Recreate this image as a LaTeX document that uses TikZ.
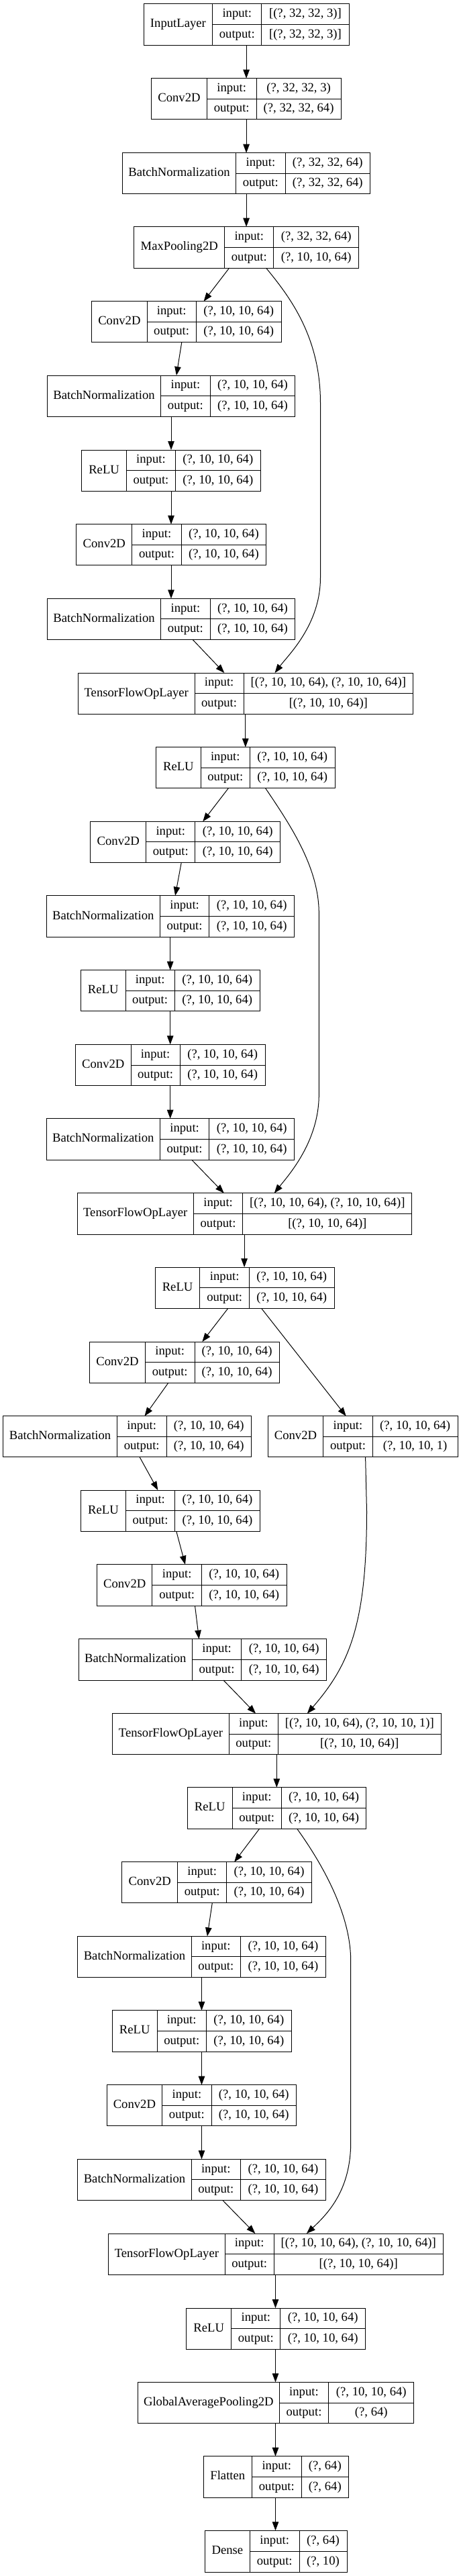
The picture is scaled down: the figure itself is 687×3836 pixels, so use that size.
\documentclass[tikz,border=0pt]{standalone}
\usepackage{fontspec}
\setmainfont{Liberation Serif}
\usetikzlibrary{arrows.meta}

\tikzset{
  layer/.style={draw, line width=1pt, inner sep=0pt, outer sep=0pt, anchor=north west},
  cell/.style={line width=1pt},
  txt/.style={font=\fontsize{18.67}{22}\selectfont, inner sep=0pt, text height=12.6pt, text depth=3.6pt},
  edge/.style={-{Triangle[length=13pt,width=9.5pt]}, line width=1pt}
}

\begin{document}
\begin{tikzpicture}[x=1pt, y=-1pt]

% Background
\fill[white] (0,0) rectangle (687,3836);

% Layers: name / x left / x divider 1 / x divider 2 / x right / y top / y bottom / type / input / output
\foreach \nm/\xa/\xb/\xc/\xd/\ya/\yb/\lab/\vin/\vout in {
l1/214.2/316.7/389.9/520.0/5.7/67.0/InputLayer/{[(?, 32, 32, 3)]}/{[(?, 32, 32, 3)]},
l2/225.6/308.4/382.0/508.2/116.7/177.7/Conv2D/{(?, 32, 32, 3)}/{(?, 32, 32, 64)},
l3/182.3/351.8/425.0/551.6/227.7/288.3/BatchNormalization/{(?, 32, 32, 64)}/{(?, 32, 32, 64)},
l4/199.8/334.7/407.9/534.5/337.7/399.0/MaxPooling2D/{(?, 32, 32, 64)}/{(?, 10, 10, 64)},
l5/136.7/219.1/292.2/419.3/448.7/509.7/Conv2D/{(?, 10, 10, 64)}/{(?, 10, 10, 64)},
l6/70.5/239.6/313.2/439.9/559.0/620.3/BatchNormalization/{(?, 10, 10, 64)}/{(?, 10, 10, 64)},
l7/121.8/188.4/261.5/388.2/670.0/731.0/ReLU/{(?, 10, 10, 64)}/{(?, 10, 10, 64)},
l8/113.9/196.7/270.3/396.5/780.7/841.7/Conv2D/{(?, 10, 10, 64)}/{(?, 10, 10, 64)},
l9/70.5/239.6/313.2/439.9/891.3/952.3/BatchNormalization/{(?, 10, 10, 64)}/{(?, 10, 10, 64)},
l10/116.5/290.0/363.2/615.5/1002.0/1063.3/TensorFlowOpLayer/{[(?, 10, 10, 64), (?, 10, 10, 64)]}/{[(?, 10, 10, 64)]},
l11/232.6/299.2/372.4/499.0/1112.7/1173.7/ReLU/{(?, 10, 10, 64)}/{(?, 10, 10, 64)},
l12/134.9/217.7/290.9/417.5/1223.3/1284.3/Conv2D/{(?, 10, 10, 64)}/{(?, 10, 10, 64)},
l13/69.2/238.3/311.9/438.5/1333.7/1395.3/BatchNormalization/{(?, 10, 10, 64)}/{(?, 10, 10, 64)},
l14/120.5/187.1/260.2/387.3/1444.7/1505.7/ReLU/{(?, 10, 10, 64)}/{(?, 10, 10, 64)},
l15/112.6/195.0/268.1/395.2/1555.3/1616.7/Conv2D/{(?, 10, 10, 64)}/{(?, 10, 10, 64)},
l16/69.2/238.3/311.9/438.5/1665.7/1727.0/BatchNormalization/{(?, 10, 10, 64)}/{(?, 10, 10, 64)},
l17/115.2/288.3/361.9/613.8/1776.7/1838.0/TensorFlowOpLayer/{[(?, 10, 10, 64), (?, 10, 10, 64)]}/{[(?, 10, 10, 64)]},
l18/231.3/297.9/371.5/498.1/1887.0/1948.7/ReLU/{(?, 10, 10, 64)}/{(?, 10, 10, 64)},
l19/133.6/216.4/290.0/416.2/1998.0/2059.0/Conv2D/{(?, 10, 10, 64)}/{(?, 10, 10, 64)},
l20/399.1/481.9/555.1/682.1/2108.7/2169.7/Conv2D/{(?, 10, 10, 64)}/{(?, 10, 10, 1)},
l21/4.8/174.4/248.0/374.6/2108.7/2169.7/BatchNormalization/{(?, 10, 10, 64)}/{(?, 10, 10, 64)},
l22/120.5/187.5/260.7/387.3/2219.0/2280.7/ReLU/{(?, 10, 10, 64)}/{(?, 10, 10, 64)},
l23/144.6/226.9/300.5/427.1/2329.7/2391.0/Conv2D/{(?, 10, 10, 64)}/{(?, 10, 10, 64)},
l24/117.0/286.5/359.7/486.7/2440.7/2502.0/BatchNormalization/{(?, 10, 10, 64)}/{(?, 10, 10, 64)},
l25/167.8/341.3/414.4/657.2/2551.7/2612.3/TensorFlowOpLayer/{[(?, 10, 10, 64), (?, 10, 10, 1)]}/{[(?, 10, 10, 64)]},
l26/279.5/346.1/419.3/545.9/2661.7/2723.0/ReLU/{(?, 10, 10, 64)}/{(?, 10, 10, 64)},
l27/181.8/264.6/337.8/464.4/2772.7/2833.7/Conv2D/{(?, 10, 10, 64)}/{(?, 10, 10, 64)},
l28/115.7/285.2/358.4/485.4/2883.3/2944.3/BatchNormalization/{(?, 10, 10, 64)}/{(?, 10, 10, 64)},
l29/167.4/234.0/307.5/434.2/2993.7/3055.0/ReLU/{(?, 10, 10, 64)}/{(?, 10, 10, 64)},
l30/159.0/241.8/315.0/441.6/3104.7/3165.7/Conv2D/{(?, 10, 10, 64)}/{(?, 10, 10, 64)},
l31/115.7/285.2/358.4/485.4/3215.3/3276.3/BatchNormalization/{(?, 10, 10, 64)}/{(?, 10, 10, 64)},
l32/161.7/335.1/408.3/660.2/3326.0/3387.0/TensorFlowOpLayer/{[(?, 10, 10, 64), (?, 10, 10, 64)]}/{[(?, 10, 10, 64)]},
l33/277.8/344.8/417.9/544.6/3437.0/3498.0/ReLU/{(?, 10, 10, 64)}/{(?, 10, 10, 64)},
l34/205.5/416.2/489.8/616.8/3547.3/3608.7/GlobalAveragePooling2D/{(?, 10, 10, 64)}/{(?, 64)},
l35/303.2/375.5/449.1/519.6/3657.7/3719.0/Flatten/{(?, 64)}/{(?, 64)},
l36/305.4/372.4/446.0/517.0/3768.3/3830.0/Dense/{(?, 64)}/{(?, 10)}
} {
    \node[layer, minimum width={(\xd-\xa)*1pt}, minimum height={(\yb-\ya)*1pt}] (\nm) at (\xa,\ya) {};
    \draw[cell] (\xb,0 |- \nm.north) -- (\xb,0 |- \nm.south);
    \draw[cell] (\xc,0 |- \nm.north) -- (\xc,0 |- \nm.south);
    \draw[cell] (\xb,0 |- \nm.center) -- (\nm.east);
    \node[txt] (\nm-name) at ({(\xa+\xb)/2},{(\ya+\yb)/2}) {\lab};
    \node[txt] (\nm-ik) at ({(\xb+\xc)/2},{(3*\ya+\yb)/4}) {input:};
    \node[txt] (\nm-ok) at ({(\xb+\xc)/2},{(\ya+3*\yb)/4}) {output:};
    \node[txt] (\nm-iv) at ({(\xc+\xd)/2},{(3*\ya+\yb)/4}) {\vin};
    \node[txt] (\nm-ov) at ({(\xc+\xd)/2},{(\ya+3*\yb)/4}) {\vout};
}

% Straight connectors: from / x at tail / to / x at head
\foreach \s/\xs/\t/\xt in {
l1/367.1/l2/367.1, l2/367.1/l3/367.1, l3/367.1/l4/367.1, l4/341.7/l5/303.6,
l5/270.8/l6/262.9, l6/255.0/l7/255.0, l7/255.0/l8/255.0, l8/255.0/l9/255.0,
l9/287.0/l10/334.3, l10/365.8/l11/365.8, l11/340.4/l12/302.3, l12/270.3/l13/261.1,
l13/253.7/l14/253.7, l14/253.7/l15/253.7, l15/253.7/l16/253.7, l16/285.6/l17/333.8,
l17/364.1/l18/364.1, l18/339.5/l19/301.4, l18/389.9/l20/515.7, l19/251.0/l21/215.5,
l21/208.1/l22/235.3, l22/262.9/l23/276.0, l23/290.5/l24/296.6, l24/333.0/l25/381.1,
l25/412.3/l26/412.3, l26/386.8/l27/349.2, l27/316.3/l28/308.9, l28/300.5/l29/300.5,
l29/300.5/l30/300.5, l30/300.5/l31/300.5, l31/331.6/l32/380.3, l32/410.5/l33/410.5,
l33/410.5/l34/410.5, l34/410.5/l35/410.5, l35/410.5/l36/410.5
} {
    \draw[edge] (\xs,0 |- \s.south) -- (\xt,0 |- \t.north);
}

% Skip connections
\draw[edge] (396.5,0 |- l4.south) .. controls (430,440) and (477.5,500) .. (477.5,600)
    -- (477.5,860) .. controls (477.5,930) and (430,975) .. (409.6,0 |- l10.north);
\draw[edge] (395.6,0 |- l11.south) .. controls (430,1225) and (475.3,1290) .. (475.3,1360)
    -- (475.3,1630) .. controls (475.3,1700) and (430,1750) .. (408.8,0 |- l17.north);
\draw[edge] (544.6,0 |- l20.south) -- (546.5,2250) .. controls (546.5,2420) and (520,2480) .. (457.8,0 |- l25.north);
\draw[edge] (442.5,0 |- l26.south) .. controls (480,2775) and (522.7,2850) .. (522.7,2920)
    -- (522.7,3190) .. controls (522.7,3260) and (490,3295) .. (456.9,0 |- l32.north);

\end{tikzpicture}
\end{document}
